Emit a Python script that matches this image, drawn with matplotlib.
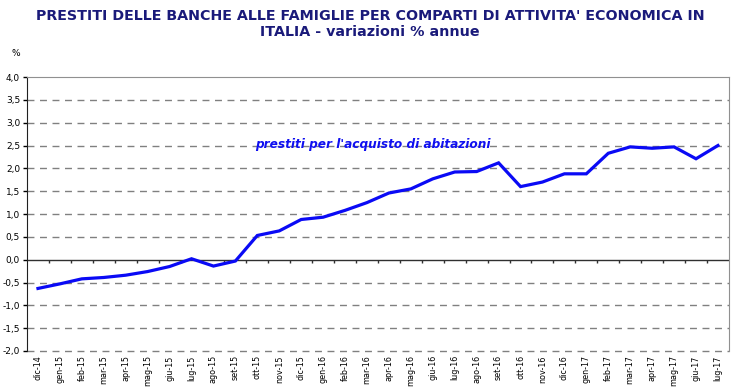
import matplotlib.pyplot as plt
import numpy as np

# mesi e variazioni % annue (prestiti per l'acquisto di abitazioni)
mesi = ['dic-14', 'gen-15', 'feb-15', 'mar-15', 'apr-15', 'mag-15', 'giu-15', 'lug-15',
        'ago-15', 'set-15', 'ott-15', 'nov-15', 'dic-15', 'gen-16', 'feb-16', 'mar-16',
        'apr-16', 'mag-16', 'giu-16', 'lug-16', 'ago-16', 'set-16', 'ott-16', 'nov-16',
        'dic-16', 'gen-17', 'feb-17', 'mar-17', 'apr-17', 'mag-17', 'giu-17', 'lug-17']
valori = [-0.63, -0.53, -0.42, -0.39, -0.34, -0.26, -0.15, 0.02,
          -0.14, -0.03, 0.53, 0.63, 0.88, 0.93, 1.08, 1.25,
          1.46, 1.55, 1.77, 1.92, 1.93, 2.12, 1.60, 1.70,
          1.88, 1.88, 2.33, 2.47, 2.44, 2.47, 2.21, 2.50]
yticks = np.arange(-2.0, 4.01, 0.5)

fig = plt.figure(figsize=(7.4, 3.89), dpi=100)
ax = fig.add_axes([0.0365, 0.0977, 0.9485, 0.7043])

x = np.arange(len(mesi))
ax.set_xlim(-0.5, len(mesi) - 0.5)
ax.set_ylim(-2.0, 4.0)

# griglia tratteggiata
for v in yticks:
    if v == 0 or v == 4.0:
        continue
    ax.axhline(v, color='#808080', lw=1, ls=(0, (5, 4)), zorder=1, clip_on=False)

# asse dello zero con tacche tra le categorie
ax.axhline(0, color='#303030', lw=1, zorder=2)
ax.vlines(x[1:] - 0.5, -0.07, 0, color='#303030', lw=1, zorder=2)

ax.plot(x, valori, color='#0a0af5', lw=2.3, zorder=3, solid_joinstyle='miter')

ax.text(9.9, 2.53, "prestiti per l'acquisto di abitazioni", color='#1010f0',
        fontsize=8.7, fontweight='bold', style='italic', va='center', ha='left')

ax.set_yticks(yticks)
ax.set_yticklabels([f'{v:.1f}'.replace('.', ',') for v in yticks], fontsize=6.5)
ax.set_xticks(x)
ax.set_xticklabels(mesi, rotation=90, fontsize=5.8)
ax.tick_params(axis='x', length=0, pad=3)
ax.tick_params(axis='y', length=3, width=1, pad=2)

ax.spines['left'].set_color('#202020')
ax.spines['top'].set_color('#909090')
ax.spines['right'].set_color('#909090')
ax.spines['bottom'].set_visible(False)

fig.text(0.5, 0.977, "PRESTITI DELLE BANCHE ALLE FAMIGLIE PER COMPARTI DI ATTIVITA' ECONOMICA IN\nITALIA - variazioni % annue",
         ha='center', va='top', fontsize=10.3, fontweight='bold', color='#1a1a7a',
         linespacing=1.2)
fig.text(0.015, 0.855, '%', fontsize=6.5)

fig.savefig('out.png', dpi=100)
